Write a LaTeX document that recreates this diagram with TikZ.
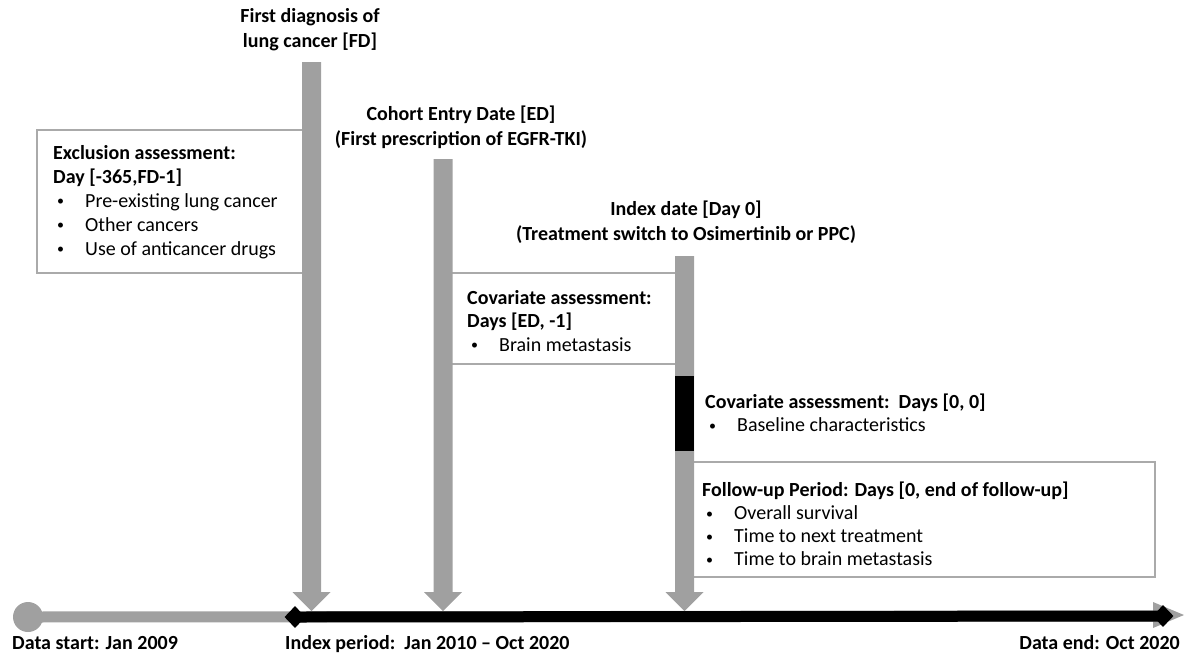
\documentclass[tikz,border=0pt]{standalone}
\usepackage{fontspec}
\setmainfont{Carlito}
\usetikzlibrary{shapes.geometric, backgrounds, positioning}
\definecolor{bargray}{RGB}{160,160,160}
\definecolor{boxgray}{RGB}{170,170,170}
\tikzset{
  every node/.style={font=\fontsize{20}{24}\selectfont, inner sep=0pt},
  headline/.style={font=\fontsize{20}{25}\selectfont\bfseries, align=center},
  datelabel/.style={font=\fontsize{20}{24}\selectfont\bfseries, anchor=base west},
  boxtext/.style={align=left, anchor=north west},
  infobox/.style={draw=boxgray, line width=1.5pt},
  endmark/.style={diamond, fill=black, minimum width=21pt, minimum height=22pt},
}
\newcommand{\bul}{\hspace*{4pt}\makebox[28pt][l]{\raisebox{1.5pt}{\fontsize{14}{14}\selectfont\textbullet}}}

\begin{document}
\begin{tikzpicture}[x=1pt, y=-1pt]
  \useasboundingbox (0,0) rectangle (1191,657);%
  % assessment windows
  \draw[infobox] (37,130) rectangle (311,273);%
  \draw[infobox] (445,273) rectangle (684,364);%
  \draw[infobox] (684,462) rectangle (1155,577);%
  % event arrows down to the time line
  \foreach \xc/\yt in {311.5/62, 443/159, 684.5/256}
    \fill[bargray] (\xc-9.5,\yt) -- (\xc+9.5,\yt) -- (\xc+9.5,592) -- (\xc+19,592)
      -- (\xc,611) -- (\xc-19,592) -- (\xc-9.5,592) -- cycle;%
  \fill (675,376) rectangle (694,451);%
  % time line
  \node[circle, fill=bargray, minimum size=30pt] (datastart) at (28,617) {};%
  \node[endmark] (indexstart) at (295,617) {};%
  \node[endmark] (dataend) at (1163,616) {};%
  \coordinate (endtip) at (1184,615);%
  \begin{scope}[on background layer]
    \draw[bargray, line width=11pt] (datastart.center) -- (dataend.center);%
    \fill[bargray] (1153,602) -- (endtip) -- (1153,628) -- cycle;%
    \draw[line width=11pt] (indexstart.center) -- (dataend.center);%
  \end{scope}
  % event labels
  \node[headline] (fdlabel) at (310,30) {First diagnosis of\\lung cancer [FD]};%
  \node[headline] (edlabel) at (461,127.5) {Cohort Entry Date [ED]\\(First prescription of EGFR-TKI)};%
  \node[headline] (indexlabel) at (686,222) {Index date [Day 0]\\(Treatment switch to Osimertinib or PPC)};%
  % window texts
  \node[boxtext] (exclusion) at (53,145) {\textbf{Exclusion assessment:}\\\textbf{Day [-365,FD-1]}\\
    \bul Pre-existing lung cancer\\\bul Other cancers\\\bul Use of anticancer drugs};%
  \node[boxtext, font=\fontsize{20}{23.5}\selectfont] (covbefore) at (467,290) {\textbf{Covariate assessment:}\\
    \textbf{Days [ED, -1]}\\\bul Brain metastasis};%
  \node[boxtext, font=\fontsize{20}{23}\selectfont] (covbaseline) at (705,394) {\textbf{Covariate assessment:\ \ Days [0, 0]}\\
    \bul Baseline characteristics};%
  \node[boxtext, font=\fontsize{20}{23}\selectfont] (followup) at (702,482) {\textbf{Follow-up Period: Days [0, end of follow-up]}\\
    \bul Overall survival\\\bul Time to next treatment\\\bul Time to brain metastasis};%
  % dates under the line
  \node[datelabel] (startlabel) at (12,649.5) {Data start: Jan 2009};%
  \node[datelabel] (periodlabel) at (285,649.5) {Index period:\ \ Jan 2010 – Oct 2020};%
  \node[datelabel, anchor=base east] (endlabel) at (1180,649.5) {Data end: Oct 2020};%
\end{tikzpicture}
\end{document}
